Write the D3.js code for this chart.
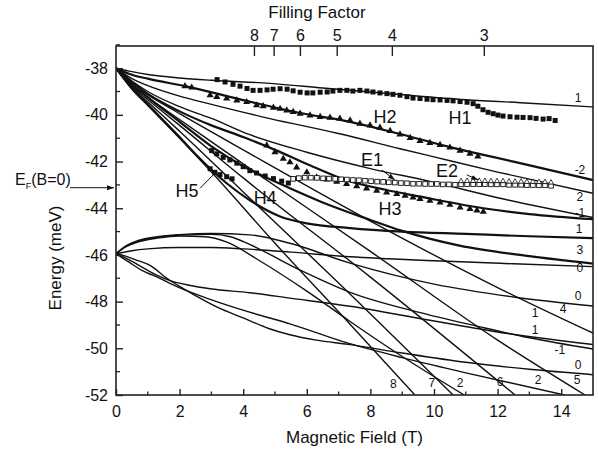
<!DOCTYPE html>
<html><head><meta charset="utf-8">
<script src="https://cdn.jsdelivr.net/npm/d3@7"></script>
<style>
body{margin:0;background:#fff}
text{font-family:Arial,"Liberation Sans",Helvetica,sans-serif;fill:#111}
</style>
</head><body>
<svg id="c" width="598" height="459"></svg>
<script>
// ---------- axis tick values ----------
const xTicks = [0, 2, 4, 6, 8, 10, 12, 14];
const xMinor = [1, 3, 5, 7, 9, 11, 13];
const yTicks = [-52, -50, -48, -46, -44, -42, -40, -38];
const yMinor = [-51, -49, -47, -45, -43, -41, -39, -37];
const fillingFactors = [8, 7, 6, 5, 4, 3];
const fillingConst = 34.7;   // B (T) at filling factor 1
const fermiEnergy = -43.12;

// ---------- calculated Landau levels: upper fan (start -38 meV) ----------
const up1   = [[0,-38],[0.5,-38.15],[1,-38.27],[2,-38.42],[3,-38.52],[4.84,-38.65],[6.5,-38.85],[8.93,-39.13],[11,-39.35],[13,-39.5],[15,-39.66]];
const upM2  = [[0,-38],[0.5,-38.28],[1,-38.45],[2.17,-38.77],[4.11,-39.4],[5.79,-39.92],[7.36,-40.3],[8.93,-40.82],[10.5,-41.38],[12.5,-42.0],[15,-42.79]];
const up2   = [[0,-38],[0.5,-38.45],[1,-38.75],[2,-39.2],[3,-39.55],[4.84,-40.16],[7,-40.8],[8.93,-41.45],[10,-41.8],[12,-42.45],[15,-43.36]];
const upX   = [[0,-38],[0.5,-38.55],[1,-39.0],[2,-39.65],[3,-40.15],[4.21,-40.85],[6,-41.6],[8,-42.3],[9.87,-42.85],[12,-43.55],[15,-44.4]];
const upM1  = [[0,-38],[0.5,-38.6],[1,-39.1],[2,-39.85],[3,-40.45],[4,-40.95],[5,-41.5],[6,-42.1],[7.25,-42.8],[8.5,-43.22],[9.56,-43.5],[11.55,-44.0],[13,-44.25],[15,-44.47]];
const up1b  = [[0,-38],[0.5,-38.85],[1,-39.55],[2,-40.95],[2.55,-41.75],[3.5,-42.95],[4.2,-43.65],[5.16,-44.35],[6,-44.65],[7.36,-44.85],[9,-45.0],[11,-45.1],[13,-45.2],[15,-45.28]];
const up3   = [[0,-38],[0.5,-38.7],[1,-39.25],[2,-40.3],[3,-41.35],[4,-42.2],[5.16,-42.95],[6.5,-43.75],[8,-44.5],[9,-44.97],[10.8,-45.6],[13,-46.05],[15,-46.37]];
const up8   = [[0,-38],[0.5,-38.9],[1,-39.6],[2,-41.0],[3,-42.45],[5,-45.5],[7.36,-48.97],[9.4,-52]];
const up7   = [[0,-38],[0.5,-38.85],[1,-39.45],[2,-40.7],[4,-43.3],[7,-47.2],[10.6,-52]];
const up6   = [[0,-38],[0.5,-38.8],[1,-39.35],[2,-40.45],[4,-42.7],[8,-46.95],[12.55,-52]];
const up5   = [[0,-38],[0.5,-38.75],[1,-39.25],[2,-40.2],[4,-42.1],[8,-45.85],[12,-49.65],[14.75,-52]];
const up4   = [[0,-38],[0.5,-38.7],[1,-39.15],[2,-39.95],[4,-41.5],[8,-44.55],[12,-47.4],[15,-49.35]];

// ---------- lower fan (start -45.95 meV) ----------
const loFlat = [[0,-45.95],[0.5,-45.82],[1,-45.74],[2,-45.68],[3,-45.68],[4,-45.74],[5.5,-45.88],[7.36,-46.08],[10,-46.25],[12.5,-46.38],[15,-46.5]];
const loC1   = [[0,-45.95],[0.3,-45.62],[0.7,-45.38],[1.3,-45.22],[2,-45.13],[3,-45.08],[4.2,-45.14],[5.47,-45.5],[7.36,-46.35],[10,-47.25],[12.5,-47.8],[15,-48.19]];
const loC2   = [[0,-45.95],[0.3,-45.64],[0.7,-45.41],[1.3,-45.25],[2,-45.15],[3,-45.12],[3.6,-45.22],[4.2,-45.55],[5.79,-46.65],[7.36,-47.6],[9.5,-48.45],[11.35,-49.05],[13,-49.55],[15,-50.03]];
const loC3   = [[0,-45.95],[0.3,-45.66],[0.7,-45.44],[1.3,-45.28],[2,-45.19],[2.8,-45.22],[3.49,-45.45],[4.53,-46.26],[6,-47.55],[7.36,-48.85],[9,-50.35],[10.95,-52]];
const loD1   = [[0,-45.95],[0.4,-46.2],[0.86,-46.55],[1.3,-46.88],[1.7,-47.1],[2.3,-47.3],[2.96,-47.45],[4.2,-47.62],[5.47,-47.85],[7.36,-48.2],[9.47,-48.7],[12,-49.3],[15,-49.84]];
const loD2   = [[0,-45.95],[0.4,-46.3],[0.8,-46.65],[1.38,-47.0],[1.9,-47.35],[2.96,-47.9],[4.2,-48.45],[5.47,-48.95],[7.3,-49.78],[9,-50.4],[11,-51.05],[14.1,-52]];
const loD3   = [[0,-45.95],[0.3,-46.05],[0.6,-46.2],[1.07,-46.45],[1.6,-47.0],[2.0,-47.35],[2.43,-47.69],[3.2,-48.25],[4.0,-48.7],[4.8,-49.15],[5.47,-49.42],[6.3,-49.65],[7.3,-49.83],[9,-50.2],[11,-50.6],[13,-50.9],[15,-51.13]];

const thinCurves  = [up1, up2, upX, up8, up7, up6, up5, up4, loFlat, loC1, loC2, loC3, loD1, loD2, loD3];
const thickCurves = [upM2, upM1, up1b, up3];

// ---------- measured points ----------
const h1B = [3.18,3.43,3.68,3.90,4.12,4.31,4.53,4.75,4.94,5.16,5.38,5.57,5.79,6.01,6.19,6.42,6.64,6.82,7.04,7.26,7.45,7.67,7.89,8.08,8.30,8.52,8.71,8.93,9.15,9.34,9.56,9.78,9.97,10.19,10.41,10.60,10.82,11.04,11.23,11.38,11.54,11.70,11.86,12.01,12.17,12.39,12.61,12.80,13.02,13.21,13.43,13.62,13.81];
const h1E = [-38.49,-38.59,-38.69,-38.77,-38.87,-38.95,-38.95,-38.93,-38.90,-38.88,-38.90,-38.97,-39.03,-39.06,-39.06,-39.03,-39.02,-38.98,-38.95,-38.95,-38.98,-38.95,-38.98,-39.02,-39.06,-39.09,-39.12,-39.16,-39.22,-39.28,-39.30,-39.33,-39.35,-39.36,-39.38,-39.40,-39.43,-39.46,-39.52,-39.63,-39.78,-39.89,-39.95,-40.01,-40.05,-40.08,-40.10,-40.11,-40.12,-40.15,-40.18,-40.16,-40.24];

const h2B = [2.17,2.38,2.96,3.17,3.48,3.80,4.11,4.42,4.63,4.95,5.16,5.37,5.57,5.79,6.10,6.42,6.73,7.04,7.36,7.67,7.99,8.30,8.62,8.93,9.25,9.56,9.87,10.19,10.50,10.82,11.13,11.38];
const h2E = [-38.77,-38.83,-39.16,-39.23,-39.30,-39.38,-39.45,-39.59,-39.63,-39.69,-39.74,-39.81,-39.87,-39.95,-40.02,-40.09,-40.12,-40.16,-40.24,-40.38,-40.45,-40.55,-40.69,-40.84,-40.99,-41.12,-41.20,-41.29,-41.40,-41.53,-41.66,-41.78];

const h3B = [4.74,5.00,5.26,5.47,5.68,6.00,6.31,6.63,6.94,7.25,7.57,7.88,8.20,8.51,8.83,9.09,9.34,9.56,9.87,10.19,10.50,10.82,11.13,11.35,11.55];
const h3E = [-41.31,-41.60,-41.88,-42.03,-42.25,-42.46,-42.68,-42.77,-42.86,-42.96,-43.06,-43.15,-43.25,-43.32,-43.39,-43.46,-43.54,-43.60,-43.68,-43.75,-43.85,-43.97,-44.03,-44.09,-44.15];

const e1B = [5.57,5.75,5.94,6.13,6.32,6.51,6.70,6.89,7.08,7.26,7.45,7.64,7.83,8.02,8.21,8.40,8.58,8.77,8.96,9.15,9.34,9.53,9.72,9.91,10.09,10.28,10.47,10.66];
const e1E = [-42.74,-42.71,-42.69,-42.69,-42.70,-42.72,-42.73,-42.74,-42.76,-42.77,-42.79,-42.80,-42.82,-42.84,-42.86,-42.87,-42.89,-42.90,-42.92,-42.93,-42.95,-42.95,-42.96,-42.96,-42.96,-42.98,-42.98,-42.99];
const e2B = [10.85,11.04,11.23,11.42,11.60,11.79,11.98,12.17,12.36,12.55,12.74,12.92,13.11,13.30,13.49,13.68];
const e2E = [-42.96,-42.95,-42.95,-42.95,-42.95,-42.96,-42.96,-42.96,-42.98,-42.98,-42.98,-42.99,-42.99,-43.00,-43.00,-43.02];

const h4B = [3.01,3.17,3.37,3.58,3.80,4.00,4.21,4.42,4.69,4.95,5.21,5.42];
const h4E = [-41.53,-41.67,-41.82,-41.93,-42.07,-42.22,-42.39,-42.49,-42.62,-42.73,-42.84,-42.92];
const h5B = [2.96,3.11,3.27,3.48,3.65];
const h5E = [-42.31,-42.46,-42.56,-42.65,-42.74];

// ---------- level index labels ----------
const levelText = ["1","-2","2","-1","1","3","0","0","4","1","1","-1","0","5","2","6","2","7","8"];
const levelB    = [14.53,14.59,14.59,14.59,14.56,14.59,14.59,14.53,14.06,13.18,13.18,13.96,14.53,14.5,13.27,12.08,10.82,9.93,8.72];
const levelE    = [-39.29,-42.36,-43.51,-44.18,-44.89,-45.79,-46.57,-47.76,-48.29,-48.5,-49.22,-50.07,-50.71,-51.36,-51.36,-51.43,-51.47,-51.47,-51.5];

// ---------- drawing ----------
const svg = d3.select("#c");
const x = d3.scaleLinear().domain([0, 15]).range([116, 593]);
const y = d3.scaleLinear().domain([-52, -37.05]).range([395, 46]);

const defs = svg.append("defs");
defs.append("clipPath").attr("id","clip")
  .append("rect").attr("x",x(0)).attr("y",y(-37.05))
  .attr("width",x(15)-x(0)).attr("height",y(-52)-y(-37.05));
defs.append("marker").attr("id","arr").attr("viewBox","0 0 10 10")
  .attr("refX",10).attr("refY",5).attr("markerWidth",7).attr("markerHeight",7)
  .attr("markerUnits","userSpaceOnUse").attr("orient","auto")
  .append("path").attr("d","M0,1.5L10,5L0,8.5Z").attr("fill","#111");

const plot = svg.append("g").attr("clip-path","url(#clip)");
const line = d3.line().x(d=>x(d[0])).y(d=>y(d[1])).curve(d3.curveMonotoneX);

plot.selectAll("path.thin").data(thinCurves).enter().append("path")
  .attr("class","thin").attr("d",line).attr("fill","none")
  .attr("stroke","#111").attr("stroke-width",1.4);
plot.selectAll("path.thick").data(thickCurves).enter().append("path")
  .attr("class","thick").attr("d",line).attr("fill","none")
  .attr("stroke","#111").attr("stroke-width",2.2);

const zip = (a,b)=>a.map((v,i)=>[v,b[i]]);
const sq = 5;
plot.selectAll("rect.h1").data(zip(h1B,h1E)).enter().append("rect").attr("class","h1")
  .attr("x",d=>x(d[0])-sq/2).attr("y",d=>y(d[1])-sq/2).attr("width",sq).attr("height",sq).attr("fill","#111");
plot.selectAll("rect.h4").data(zip(h4B,h4E).concat(zip(h5B,h5E))).enter().append("rect").attr("class","h4")
  .attr("x",d=>x(d[0])-sq/2).attr("y",d=>y(d[1])-sq/2).attr("width",sq).attr("height",sq).attr("fill","#111");
const tri = d3.symbol().type(d3.symbolTriangle).size(22);
plot.selectAll("path.tri").data(zip(h2B,h2E).concat(zip(h3B,h3E))).enter().append("path").attr("class","tri")
  .attr("d",tri).attr("transform",d=>`translate(${x(d[0])},${y(d[1])})`).attr("fill","#111");
plot.selectAll("rect.e1").data(zip(e1B,e1E)).enter().append("rect").attr("class","e1")
  .attr("x",d=>x(d[0])-2.3).attr("y",d=>y(d[1])-2.3).attr("width",4.6).attr("height",4.6)
  .attr("fill","#fff").attr("stroke","#111").attr("stroke-width",0.9);
const otri = d3.symbol().type(d3.symbolTriangle).size(14);
plot.selectAll("path.e2t").data(zip(e2B,e2E)).enter().append("path").attr("class","e2t")
  .attr("d",otri).attr("transform",d=>`translate(${x(d[0])},${y(d[1])-2.5})`)
  .attr("fill","#fff").attr("stroke","#111").attr("stroke-width",0.8);
plot.selectAll("rect.e2").data(zip(e2B,e2E)).enter().append("rect").attr("class","e2")
  .attr("x",d=>x(d[0])-2.3).attr("y",d=>y(d[1])-1.3).attr("width",4.6).attr("height",4)
  .attr("fill","#fff").attr("stroke","#111").attr("stroke-width",0.9);

// frame
svg.append("rect").attr("x",x(0)).attr("y",y(-37.05)).attr("width",x(15)-x(0))
  .attr("height",y(-52)-y(-37.05)).attr("fill","none").attr("stroke","#222").attr("stroke-width",1.6);

// axes
const styleAxis = g => { g.select(".domain").remove();
  g.selectAll("line").attr("stroke","#222").attr("stroke-width",1.4);
  g.selectAll("text").attr("font-size",16).attr("fill","#111")
   .attr("font-family",'Arial,"Liberation Sans",Helvetica,sans-serif'); };
const fmt = d => String(d);
svg.append("g").attr("transform",`translate(0,${y(-52)})`)
  .call(d3.axisBottom(x).tickValues(xTicks).tickFormat(fmt).tickSizeInner(-6).tickSizeOuter(0).tickPadding(11)).call(styleAxis);
svg.append("g").attr("transform",`translate(${x(0)},0)`)
  .call(d3.axisLeft(y).tickValues(yTicks).tickFormat(fmt).tickSizeInner(-7).tickSizeOuter(0).tickPadding(8)).call(styleAxis);
svg.append("g").attr("transform",`translate(0,${y(-37.05)})`)
  .call(d3.axisTop(x).tickValues(fillingFactors.map(v=>fillingConst/v))
    .tickFormat((d,i)=>fillingFactors[i]).tickSizeInner(-10).tickSizeOuter(0).tickPadding(5)).call(styleAxis);
svg.append("g").selectAll("line").data(xMinor).enter().append("line")
  .attr("x1",d=>x(d)).attr("x2",d=>x(d)).attr("y1",y(-52)).attr("y2",y(-52)-3.5)
  .attr("stroke","#222").attr("stroke-width",1.3);
svg.append("g").selectAll("line").data(yMinor).enter().append("line")
  .attr("x1",x(0)).attr("x2",x(0)+4).attr("y1",d=>y(d)).attr("y2",d=>y(d))
  .attr("stroke","#222").attr("stroke-width",1.3);

// axis titles
svg.append("text").attr("x",(x(0)+x(15))/2).attr("y",443).attr("text-anchor","middle")
  .attr("font-size",17).text("Magnetic Field (T)");
svg.append("text").attr("x",317).attr("y",18).attr("text-anchor","middle")
  .attr("font-size",17).text("Filling Factor");
svg.append("text").attr("transform","translate(61,258) rotate(-90)").attr("text-anchor","middle")
  .attr("font-size",17).text("Energy (meV)");

// level labels
svg.append("g").selectAll("text").data(levelText).enter().append("text")
  .attr("x",(d,i)=>x(levelB[i])).attr("y",(d,i)=>y(levelE[i])).attr("text-anchor","middle")
  .attr("dy","0.35em").attr("font-size",12).text(d=>d);

// series annotations
const annText = ["H1","H2","E1","E2","H3","H4","H5"];
const annB    = [10.82, 8.46, 8.05, 10.41, 8.62, 4.69, 2.23];
const annE    = [-40.13, -40.09, -41.93, -42.40, -44.03, -43.52, -43.26];
svg.append("g").selectAll("text").data(annText).enter().append("text")
  .attr("x",(d,i)=>x(annB[i])).attr("y",(d,i)=>y(annE[i])).attr("text-anchor","middle")
  .attr("dy","0.36em").attr("font-size",18).text(d=>d);

// pointers
svg.append("line").attr("x1",x(8.36)).attr("y1",y(-42.36)).attr("x2",x(8.77)).attr("y2",y(-42.79))
  .attr("stroke","#111").attr("stroke-width",1).attr("marker-end","url(#arr)");
svg.append("line").attr("x1",x(11.03)).attr("y1",y(-42.57)).attr("x2",x(11.39)).attr("y2",y(-42.79))
  .attr("stroke","#111").attr("stroke-width",1).attr("marker-end","url(#arr)");
svg.append("line").attr("x1",x(2.64)).attr("y1",y(-43.15)).attr("x2",x(3.11)).attr("y2",y(-42.5))
  .attr("stroke","#111").attr("stroke-width",1);

// Fermi energy marker
svg.append("line").attr("x1",70).attr("x2",x(0)-2).attr("y1",y(fermiEnergy)).attr("y2",y(fermiEnergy))
  .attr("stroke","#111").attr("stroke-width",1).attr("marker-end","url(#arr)");
const ef = svg.append("text").attr("x",15).attr("y",y(fermiEnergy)-3).attr("font-size",16);
ef.append("tspan").text("E");
ef.append("tspan").attr("font-size",9).attr("dy",4).text("F");
ef.append("tspan").attr("dy",-4).text("(B=0)");
</script>
</body></html>
